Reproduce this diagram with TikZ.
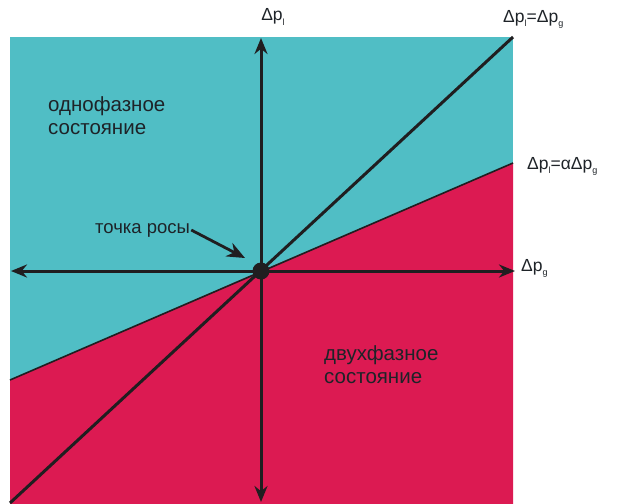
\documentclass[tikz,border=0pt]{standalone}
\usepackage{fontspec}
\setmainfont{Liberation Sans}
\usetikzlibrary{arrows.meta}
\definecolor{cyanf}{RGB}{80,190,197}
\definecolor{redf}{RGB}{220,26,82}
\definecolor{darkl}{RGB}{32,30,32}
\definecolor{txt}{RGB}{30,35,40}
\newcommand{\sbs}[1]{\raisebox{-0.45ex}{\fontsize{9}{9}\selectfont #1}}
\tikzset{
  axis/.style={draw=darkl, line width=3pt, {Stealth[length=16pt,width=13pt]}-{Stealth[length=16pt,width=13pt]}},
  bound/.style={draw=darkl, line width=3pt},
  lbl/.style={text=txt, font=\fontsize{17.5}{17.5}\selectfont, inner sep=0pt},
  region/.style={text=txt, font=\fontsize{20.5}{23}\selectfont, align=left, inner sep=0pt},
  pointer/.style={draw=darkl, line width=2.8pt, -{Stealth[length=18pt,width=15pt]}}
}
\begin{document}
\begin{tikzpicture}[x=1pt,y=-1pt]
\useasboundingbox (0,0) rectangle (622,504);
\fill[cyanf] (10,37) rectangle (513,504);
\fill[redf] (10,380) -- (261,271) -- (513,163) -- (513,504) -- (10,504) -- cycle;
\coordinate (aL) at (10,380);
\coordinate (aR) at (513,163);
\coordinate (dL) at (10,503);
\coordinate (dR) at (513,37);
\coordinate (xL) at (11,271);
\coordinate (xR) at (515,271);
\coordinate (yT) at (261,38);
\coordinate (yB) at (261,502);
\draw[bound, line width=1.6pt] (aL) -- (aR);
\draw[bound] (dL) -- (dR);
\draw[axis] (xL) -- (xR);
\draw[axis] (yT) -- (yB);
\node[circle, fill=darkl, minimum size=17pt, inner sep=0pt] (O) at (261,271) {};
\node[lbl] (ly) at (273,17) {Δp\sbs{l}};
\node[lbl, anchor=west] (ld) at (503,19) {Δp\sbs{l}=Δp\sbs{g}};
\node[lbl, anchor=west] (la) at (527,166) {Δp\sbs{l}=αΔp\sbs{g}};
\node[lbl, anchor=west] (lx) at (521,268) {Δp\sbs{g}};
\node[region, anchor=north west] (r1) at (48,96) {однофазное\\состояние};
\node[region, anchor=north west] (r2) at (324,345) {двухфазное\\состояние};
\node[region, anchor=west, font=\fontsize{18.5}{20}\selectfont] (dew) at (95,230) {точка росы};
\draw[pointer] (dew.east) ++(1,0) coordinate (ps) -- (245,258);
\end{tikzpicture}
\end{document}
